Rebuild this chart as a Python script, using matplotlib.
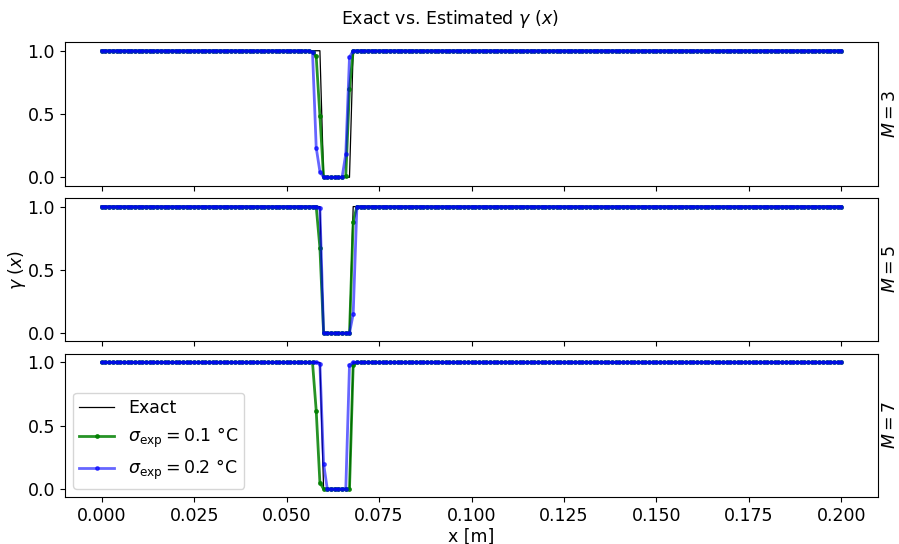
import matplotlib
matplotlib.use("Agg")
import matplotlib.pyplot as plt
import numpy as np

# grid used for all curves
x = np.linspace(0.0, 0.2, 201)

# exact profile: zero inside the cavity
exact_start = 60
exact_vals = [0, 0, 0, 0, 0, 0, 0, 0]

# estimated dips (start index, values)
M_list = [3, 5, 7]
green_start = [57, 58, 57]
green_vals = [
    [0.99, 0.955, 0.486, 0, 0, 0, 0, 0, 0, 0.01, 0.70],
    [1.0, 0.675, 0, 0, 0, 0, 0, 0, 0, 0, 0.88],
    [1.0, 0.62, 0.05, 0, 0, 0, 0, 0, 0, 0, 0, 0.98],
]
blue_start = [57, 59, 59]
blue_vals = [
    [0.99, 0.235, 0.045, 0, 0, 0, 0, 0, 0, 0.185, 0.95],
    [0.99, 0, 0, 0, 0, 0, 0, 0, 0, 0.15],
    [0.99, 0.2, 0, 0, 0, 0, 0, 0, 0.98],
]


def profile(start, vals):
    y = np.ones_like(x)
    y[start:start + len(vals)] = vals
    return y


plt.rcParams['font.size'] = 12.5
fig, axes = plt.subplots(3, 1, figsize=(8.99, 5.44), dpi=100, sharex=True)
fig.subplots_adjust(left=0.072, right=0.977, top=0.923, bottom=0.086, hspace=0.085)

exact = profile(exact_start, exact_vals)
for k, ax in enumerate(axes):
    ax.plot(x, exact, color='black', lw=0.9, label='Exact')
    ax.plot(x, profile(green_start[k], green_vals[k]), color='green', lw=2, alpha=0.85,
            marker='.', markersize=5, label=r'$\sigma_{\mathrm{exp}} = 0.1$ °C')
    ax.plot(x, profile(blue_start[k], blue_vals[k]), color='blue', lw=2, alpha=0.6,
            marker='.', markersize=5, label=r'$\sigma_{\mathrm{exp}} = 0.2$ °C')
    ax.set_yticks([0.0, 0.5, 1.0])
    ax.set_ylim(-0.065, 1.07)
    ax.text(1.003, 0.5, '$M = %d$' % M_list[k], transform=ax.transAxes,
            rotation=90, va='center', ha='left')

axes[1].set_ylabel(r'$\gamma\ (x)$', labelpad=0)
axes[2].set_xlabel('x [m]', labelpad=2)
axes[2].legend(loc='lower left', borderpad=0.35)
fig.suptitle(r'Exact vs. Estimated $\gamma\ (x)$', fontsize=12.5, y=0.985)

plt.savefig('out.png', dpi=100)
